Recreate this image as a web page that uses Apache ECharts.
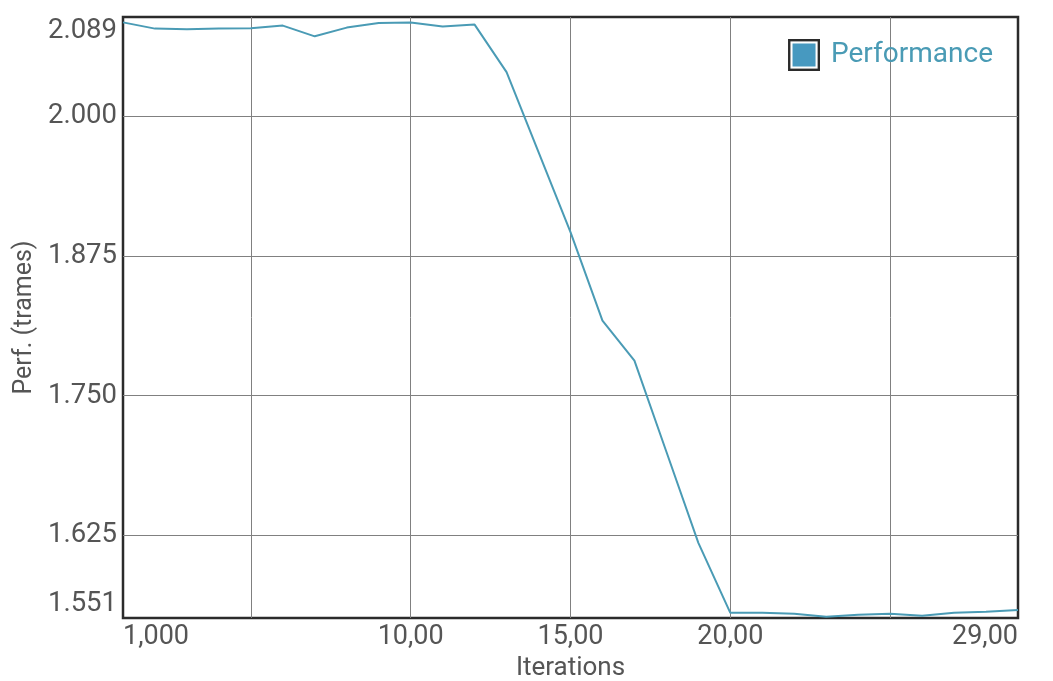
<!DOCTYPE html>
<html>
<head>
<meta charset="utf-8">
<script src="https://cdn.jsdelivr.net/npm/echarts@6/dist/echarts.min.js"></script>
<style>
html,body{margin:0;padding:0;background:#fff;}
#chart{width:1053px;height:681px;}
</style>
</head>
<body>
<div id="chart"></div>
<script>
const iterations = [1,2,3,4,5,6,7,8,9,10,11,12,13,14,15,16,17,18,19,20,21,22,23,24,25,26,27,28,29];
const performance = [2.0842,2.0786,2.0780,2.0786,2.0789,2.0813,2.0717,2.0795,2.0836,2.0840,2.0806,2.0822,
  2.0397,1.9680,1.8965,1.8172,1.7814,1.6998,1.6183,1.5556,1.5556,1.5549,1.5522,1.5538,1.5549,1.5531,1.5558,1.5567,1.5582];
const xMin = 1, xMax = 29;
const xGridValues = [5,10,15,20,25];
const xLabelValues = [1,10,15,20,29];
const xLabelTexts = ['1,000','10,00','15,00','20,00','29,00'];
const yMin = 1.551, yMax = 2.089;
const yGridValues = [1.625,1.75,1.875,2.0];
const yLabelValues = [1.551,1.625,1.75,1.875,2.0,2.089];

const legendIcon = 'image://data:image/svg+xml;utf8,' + encodeURIComponent(
  '<svg xmlns="http://www.w3.org/2000/svg" width="32" height="32"><rect x="1.2" y="1.2" width="29.6" height="29.6" fill="#fff" stroke="#2b2b2b" stroke-width="2.4"/><rect x="4.5" y="4.5" width="23" height="23" fill="#4799c0"/></svg>');

const chart = echarts.init(document.getElementById('chart'));
chart.setOption({
  animation: false,
  backgroundColor: '#ffffff',
  textStyle: { fontFamily: 'Roboto' },
  grid: { left: 123, right: 35, top: 17, bottom: 63, show: true, borderColor: '#2b2b2b', borderWidth: 2.5, containLabel: false, outerBoundsMode: 'none' },
  legend: {
    data: [{ name: 'Performance', icon: legendIcon }],
    right: 55, top: 34,
    itemWidth: 32, itemHeight: 32, itemGap: 10,
    textStyle: { color: '#4a9bb5', fontSize: 28, fontFamily: 'Roboto', padding: [0,0,0,6] }
  },
  xAxis: {
    type: 'value', min: xMin, max: xMax,
    name: 'Iterations', nameLocation: 'middle', nameGap: 21,
    nameTextStyle: { color: '#555', fontSize: 26, fontFamily: 'Roboto' },
    axisLine: { show: false },
    axisTick: { show: false, customValues: xGridValues },
    splitLine: { show: true, lineStyle: { color: '#808080', width: 1 } },
    axisLabel: {
      customValues: xLabelValues,
      formatter: v => { const i = xLabelValues.indexOf(v); return i >= 0 ? xLabelTexts[i] : ''; },
      color: '#555', fontSize: 27, margin: 6,
      alignMinLabel: 'left', alignMaxLabel: 'right'
    }
  },
  yAxis: {
    type: 'value', min: yMin, max: yMax,
    name: 'Perf. (trames)', nameLocation: 'middle', nameGap: 82, nameRotate: 90,
    nameTextStyle: { color: '#555', fontSize: 25, fontFamily: 'Roboto' },
    axisLine: { show: false },
    axisTick: { show: false, customValues: yGridValues },
    splitLine: { show: true, lineStyle: { color: '#808080', width: 1 } },
    axisLabel: {
      customValues: yLabelValues,
      formatter: v => v.toFixed(3),
      color: '#555', fontSize: 27.5, margin: 6,
      verticalAlignMinLabel: 'bottom', verticalAlignMaxLabel: 'top'
    }
  },
  series: [{
    name: 'Performance', type: 'line',
    data: iterations.map((x, i) => [x, performance[i]]),
    showSymbol: false, symbol: 'none',
    lineStyle: { color: '#4a9bb5', width: 2 },
    itemStyle: { color: '#4799c0' }
  }]
});
</script>
</body>
</html>
